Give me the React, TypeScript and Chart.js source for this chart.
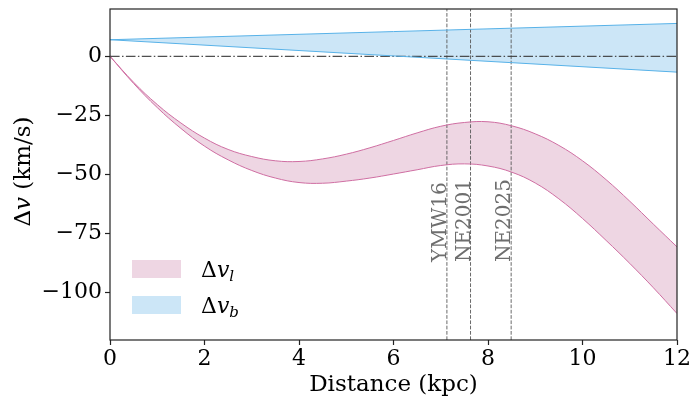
import { useEffect, useRef } from "react";
import { Chart, registerables } from "chart.js";

Chart.register(...registerables);

// Distance grid (kpc) for the longitudinal velocity band
const distance = [0, 0.5, 1, 1.5, 2, 2.5, 3, 3.5, 4, 4.5, 5, 5.5, 6, 6.5, 7, 7.5, 8, 8.5, 9, 9.5, 10, 10.5, 11, 11.5, 12];
// Δv_l band edges (km/s)
const dvlUpper = [0, -11, -20.4, -28.2, -34.6, -39.4, -42.4, -44.2, -44.5, -43.4, -41.4, -38.7, -35.6, -32.4, -29.6, -28, -27.7, -29.4, -32.8, -37.7, -44.2, -52.2, -61.3, -71, -80.6];
const dvlLower = [0, -11.5, -21.7, -30.5, -38, -43.8, -48.3, -51.5, -53.4, -53.7, -52.8, -51.5, -49.8, -48, -46.2, -45.5, -46.4, -49, -53.6, -60.3, -68.6, -77.9, -87.6, -97.9, -108.8];
// Δv_b band edges (km/s), straight lines between the ends
const bandDistance = [0, 12];
const dvbUpper = [7, 13.9];
const dvbLower = [7, -6.7];
// Reference distances of the Galactic centre models
const modelNames = ["YMW16", "NE2001", "NE2025"];
const modelDistance = [7.13, 7.63, 8.49];

const xTicks = [0, 2, 4, 6, 8, 10, 12];
const yTicks = [-100, -75, -50, -25, 0];
const xRange = [0, 12];
const yRange = [-120, 20];

const SERIF = '"DejaVu Serif", serif';
const PINK_LINE = "rgb(207, 110, 162)";
const PINK_FILL = "rgb(238, 214, 227)";
const BLUE_LINE = "rgb(88, 178, 232)";
const BLUE_FILL = "rgb(204, 230, 247)";

const pts = (xs: number[], ys: number[]) => xs.map((x, i) => ({ x, y: ys[i] }));

const overlay = {
  id: "overlay",
  afterDraw(chart: any) {
    const { ctx, chartArea: a, scales } = chart;
    const xs = scales.x;
    const ys = scales.y;
    ctx.save();

    // model labels next to the dashed lines
    ctx.fillStyle = "#6e6e6e";
    ctx.font = `20px ${SERIF}`;
    ctx.textAlign = "left";
    ctx.textBaseline = "alphabetic";
    modelNames.forEach((name, i) => {
      const px = xs.getPixelForValue(modelDistance[i]);
      ctx.save();
      ctx.translate(px - 1, ys.getPixelForValue(-87));
      ctx.rotate(-Math.PI / 2);
      ctx.fillText(name, 0, 0);
      ctx.restore();
    });

    // frame
    ctx.strokeStyle = "#222";
    ctx.lineWidth = 1.2;
    ctx.strokeRect(a.left, a.top, a.right - a.left, a.bottom - a.top);

    // x title
    ctx.fillStyle = "#000";
    ctx.font = `23px ${SERIF}`;
    ctx.textAlign = "center";
    ctx.textBaseline = "alphabetic";
    ctx.fillText("Distance (kpc)", (a.left + a.right) / 2, 391);

    // y title: Δ v (km/s) with italic v
    const parts: [string, string][] = [
      ["Δ", `23px ${SERIF}`],
      ["v", `italic 23px ${SERIF}`],
      [" (km/s)", `23px ${SERIF}`],
    ];
    let total = 0;
    parts.forEach(([t, f]) => {
      ctx.font = f;
      total += ctx.measureText(t).width;
    });
    ctx.save();
    ctx.translate(30, (a.top + a.bottom) / 2 + total / 2 - 3);
    ctx.rotate(-Math.PI / 2);
    ctx.textAlign = "left";
    let off = 0;
    parts.forEach(([t, f]) => {
      ctx.font = f;
      ctx.fillText(t, off, 0);
      off += ctx.measureText(t).width;
    });
    ctx.restore();

    // legend
    const entries: [string, string, number][] = [
      ["l", PINK_FILL, 260],
      ["b", BLUE_FILL, 296],
    ];
    entries.forEach(([sub, color, top]) => {
      ctx.fillStyle = color;
      ctx.fillRect(132, top, 49, 18);
      ctx.fillStyle = "#000";
      ctx.textAlign = "left";
      const base = top + 17;
      ctx.font = `22px ${SERIF}`;
      ctx.fillText("Δ", 201, base);
      let w = ctx.measureText("Δ").width;
      ctx.font = `italic 22px ${SERIF}`;
      ctx.fillText("v", 201 + w, base);
      w += ctx.measureText("v").width;
      ctx.font = `italic 15px ${SERIF}`;
      ctx.fillText(sub, 201 + w, base + 4);
    });

    ctx.restore();
  },
};

export default function App() {
  const ref = useRef<HTMLCanvasElement | null>(null);

  useEffect(() => {
    if (!ref.current) return;
    const vlines = modelDistance.map((d) => ({
      data: [
        { x: d, y: yRange[0] },
        { x: d, y: yRange[1] },
      ],
      borderColor: "rgba(90,90,90,0.9)",
      borderWidth: 1,
      borderDash: [3.7, 1.6],
      pointRadius: 0,
      fill: false,
    }));
    const chart = new Chart(ref.current, {
      type: "line",
      data: {
        datasets: [
          {
            data: pts(bandDistance, dvbUpper),
            borderColor: BLUE_LINE,
            borderWidth: 1,
            pointRadius: 0,
            fill: false,
          },
          {
            data: pts(bandDistance, dvbLower),
            borderColor: BLUE_LINE,
            borderWidth: 1,
            pointRadius: 0,
            fill: "-1",
            backgroundColor: BLUE_FILL,
          },
          {
            data: pts(distance, dvlUpper),
            borderColor: PINK_LINE,
            borderWidth: 1,
            pointRadius: 0,
            tension: 0.4,
            fill: false,
          },
          {
            data: pts(distance, dvlLower),
            borderColor: PINK_LINE,
            borderWidth: 1,
            pointRadius: 0,
            tension: 0.4,
            fill: "-1",
            backgroundColor: PINK_FILL,
          },
          {
            data: pts(xRange, [0, 0]),
            borderColor: "rgba(60,60,60,0.9)",
            borderWidth: 1.3,
            borderDash: [9.6, 2.4, 1.5, 2.4],
            pointRadius: 0,
            fill: false,
          },
          ...vlines,
        ] as any,
      },
      options: {
        animation: false,
        responsive: false,
        layout: { padding: { top: 9, right: 15, left: 0, bottom: 0 } },
        plugins: {
          legend: { display: false },
          tooltip: { enabled: false },
          filler: { drawTime: "beforeDatasetsDraw" },
        } as any,
        scales: {
          x: {
            type: "linear",
            min: xRange[0],
            max: xRange[1],
            afterBuildTicks: (s: any) => {
              s.ticks = xTicks.map((v) => ({ value: v }));
            },
            afterFit: (s: any) => {
              s.height = 58;
              s.paddingLeft = 0;
              s.paddingRight = 0;
            },
            border: { display: false },
            grid: { drawOnChartArea: false, drawTicks: true, tickLength: 5, color: "#222", tickWidth: 1.2 },
            ticks: { color: "#000", font: { family: SERIF, size: 22 }, padding: 1, maxRotation: 0 },
          },
          y: {
            type: "linear",
            min: yRange[0],
            max: yRange[1],
            afterBuildTicks: (s: any) => {
              s.ticks = yTicks.map((v) => ({ value: v }));
            },
            afterFit: (s: any) => {
              s.width = 110;
              s.paddingTop = 0;
              s.paddingBottom = 0;
            },
            border: { display: false },
            grid: { drawOnChartArea: false, drawTicks: true, tickLength: 5, color: "#222", tickWidth: 1.2 },
            ticks: {
              color: "#000",
              font: { family: SERIF, size: 22 },
              padding: 3,
              callback: (v: any) => (v < 0 ? "\u2212" + Math.abs(v) : String(v)),
            },
          },
        },
      },
      plugins: [overlay],
    });
    return () => chart.destroy();
  }, []);

  return (
    <div style={{ position: "fixed", left: 0, top: 0, width: 692, height: 398, background: "#fff" }}>
      <canvas ref={ref} width={692} height={398} />
    </div>
  );
}
